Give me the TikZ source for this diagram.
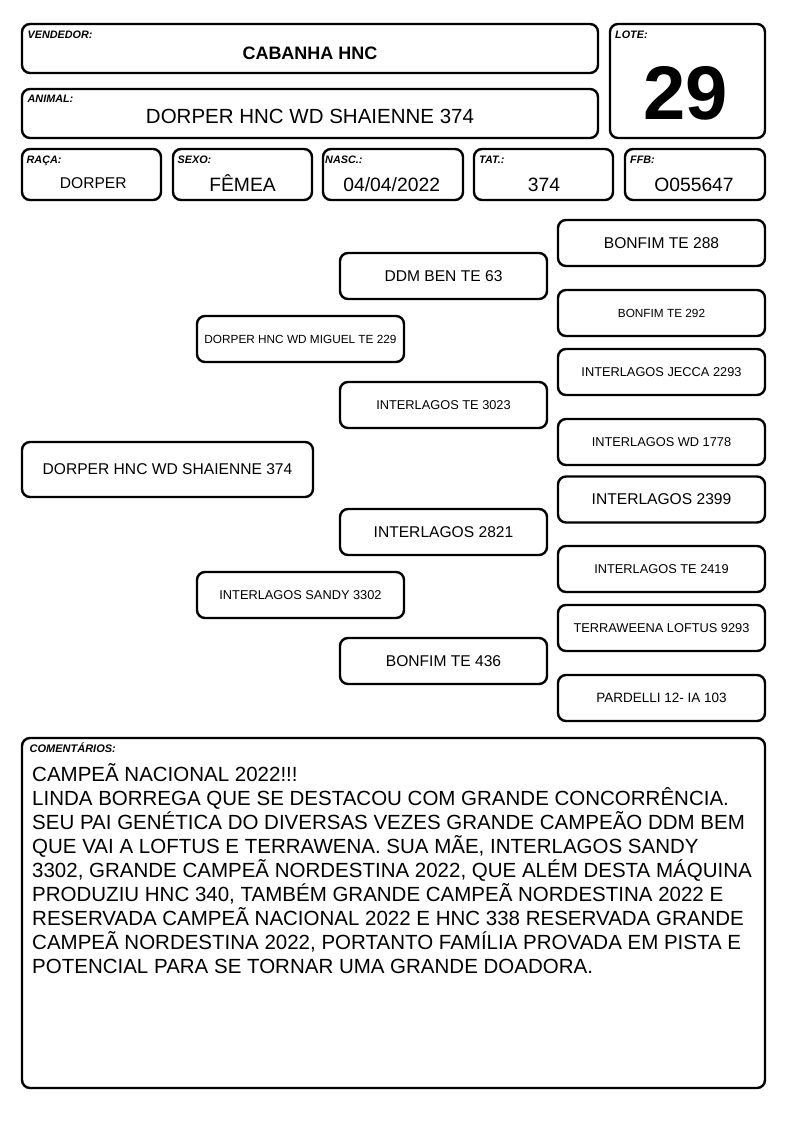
\documentclass[tikz,border=0pt]{standalone}
\usepackage{fontspec}
\setmainfont{Liberation Sans}
\begin{document}
\begin{tikzpicture}[x=1pt,y=-1pt,
  box/.style={draw=black, line width=2.4pt, rounded corners=8pt, fill=white, inner sep=0pt},
  lbl/.style={anchor=base west, inner sep=0pt, font=\fontsize{10.8}{12}\selectfont\bfseries\itshape},
  val/.style={anchor=base, inner sep=0pt},
  ped/.style={box, minimum width=207pt, minimum height=46pt, align=center},
  big/.style={font=\fontsize{15.6}{18}\selectfont},
  mid/.style={font=\fontsize{12.8}{15}\selectfont},
  sml/.style={font=\fontsize{11.8}{14}\selectfont}
]
\useasboundingbox (0,0) rectangle (794,1123);
% header boxes
\node[box, minimum width=576pt, minimum height=49pt] (vend) at (310,48.5) {};
\node[box, minimum width=576pt, minimum height=49pt] (anim) at (310,113.5) {};
\node[box, minimum width=155pt, minimum height=114pt] (lote) at (687.5,81) {};
\node[box, minimum width=139pt, minimum height=51pt] (raca) at (91.5,174.5) {};
\node[box, minimum width=139pt, minimum height=51pt] (sexo) at (242.5,174.5) {};
\node[box, minimum width=140pt, minimum height=51pt] (nasc) at (393,174.5) {};
\node[box, minimum width=139pt, minimum height=51pt] (tat) at (543.5,174.5) {};
\node[box, minimum width=140pt, minimum height=51pt] (ffb) at (695,174.5) {};
% labels
\node[lbl] (lvend) at (27.5,39) {VENDEDOR:};
\node[lbl] (lanim) at (27.5,103) {ANIMAL:};
\node[lbl] (llote) at (615,39) {LOTE:};
\node[lbl] (lraca) at (26.5,163.5) {RAÇA:};
\node[lbl] (lsexo) at (177.5,163.5) {SEXO:};
\node[lbl] (lnasc) at (325,163.5) {NASC.:};
\node[lbl] (ltat) at (479,163.5) {TAT.:};
\node[lbl] (lffb) at (630,163.5) {FFB:};
% values
\node[val, font=\fontsize{18}{21}\selectfont\bfseries] (vvend) at (310,59.8) {CABANHA HNC};
\node[val, font=\fontsize{20.5}{24}\selectfont] (vanim) at (310,123.3) {DORPER HNC WD SHAIENNE 374};
\node[val, font=\fontsize{76}{88}\selectfont\bfseries] (vlote) at (686,120) {29};
\node[val, font=\fontsize{15.6}{18}\selectfont] (vraca) at (93.3,188.3) {DORPER};
\node[val, font=\fontsize{19.3}{22}\selectfont] (vsexo) at (242.5,192) {FÊMEA};
\node[val, font=\fontsize{19.3}{22}\selectfont] (vnasc) at (391.7,191.7) {04/04/2022};
\node[val, font=\fontsize{19.3}{22}\selectfont] (vtat) at (544,191.7) {374};
\node[val, font=\fontsize{19.3}{22}\selectfont] (vffb) at (694,191.7) {O055647};
% pedigree
\node[box, minimum width=291pt, minimum height=55pt, big] (p0) at (167.5,469.5) {DORPER HNC WD SHAIENNE 374};
\node[ped, sml] (s) at (300.5,339) {DORPER HNC WD MIGUEL TE 229};
\node[ped, mid] (d) at (300.5,595) {INTERLAGOS SANDY 3302};
\node[ped, big] (ss) at (443.5,276) {DDM BEN TE 63};
\node[ped, mid] (sd) at (443.5,405) {INTERLAGOS TE 3023};
\node[ped, big] (ds) at (443.5,532) {INTERLAGOS 2821};
\node[ped, big] (dd) at (443.5,661) {BONFIM TE 436};
\node[ped, big] (sss) at (661.5,243) {BONFIM TE 288};
\node[ped, sml] (ssd) at (661.5,313) {BONFIM TE 292};
\node[ped, mid] (sds) at (661.5,372) {INTERLAGOS JECCA 2293};
\node[ped, mid] (sdd) at (661.5,442) {INTERLAGOS WD 1778};
\node[ped, big] (dss) at (661.5,499.5) {INTERLAGOS 2399};
\node[ped, mid] (dsd) at (661.5,569) {INTERLAGOS TE 2419};
\node[ped, mid] (dds) at (661.5,628) {TERRAWEENA LOFTUS 9293};
\node[ped, font=\fontsize{13.5}{16}\selectfont] (ddd) at (661.5,698) {PARDELLI 12- IA 103};
% comments
\node[box, minimum width=743pt, minimum height=350pt] (com) at (393.5,913) {};
\node[lbl, font=\fontsize{11}{12}\selectfont\bfseries\itshape] (lcom) at (29.5,752.7) {COMENTÁRIOS:};
\node[anchor=north west, inner sep=0pt, align=left, font=\fontsize{20.5}{24}\selectfont] (ctext) at (32,763.5) {CAMPEÃ NACIONAL 2022!!!\\
LINDA BORREGA QUE SE DESTACOU COM GRANDE CONCORRÊNCIA.\\
SEU PAI GENÉTICA DO DIVERSAS VEZES GRANDE CAMPEÃO DDM BEM\\
QUE VAI A LOFTUS E TERRAWENA. SUA MÃE, INTERLAGOS SANDY\\
3302, GRANDE CAMPEÃ NORDESTINA 2022, QUE ALÉM DESTA MÁQUINA\\
PRODUZIU HNC 340, TAMBÉM GRANDE CAMPEÃ NORDESTINA 2022 E\\
RESERVADA CAMPEÃ NACIONAL 2022 E HNC 338 RESERVADA GRANDE\\
CAMPEÃ NORDESTINA 2022, PORTANTO FAMÍLIA PROVADA EM PISTA E\\
POTENCIAL PARA SE TORNAR UMA GRANDE DOADORA.};
\end{tikzpicture}
\end{document}
